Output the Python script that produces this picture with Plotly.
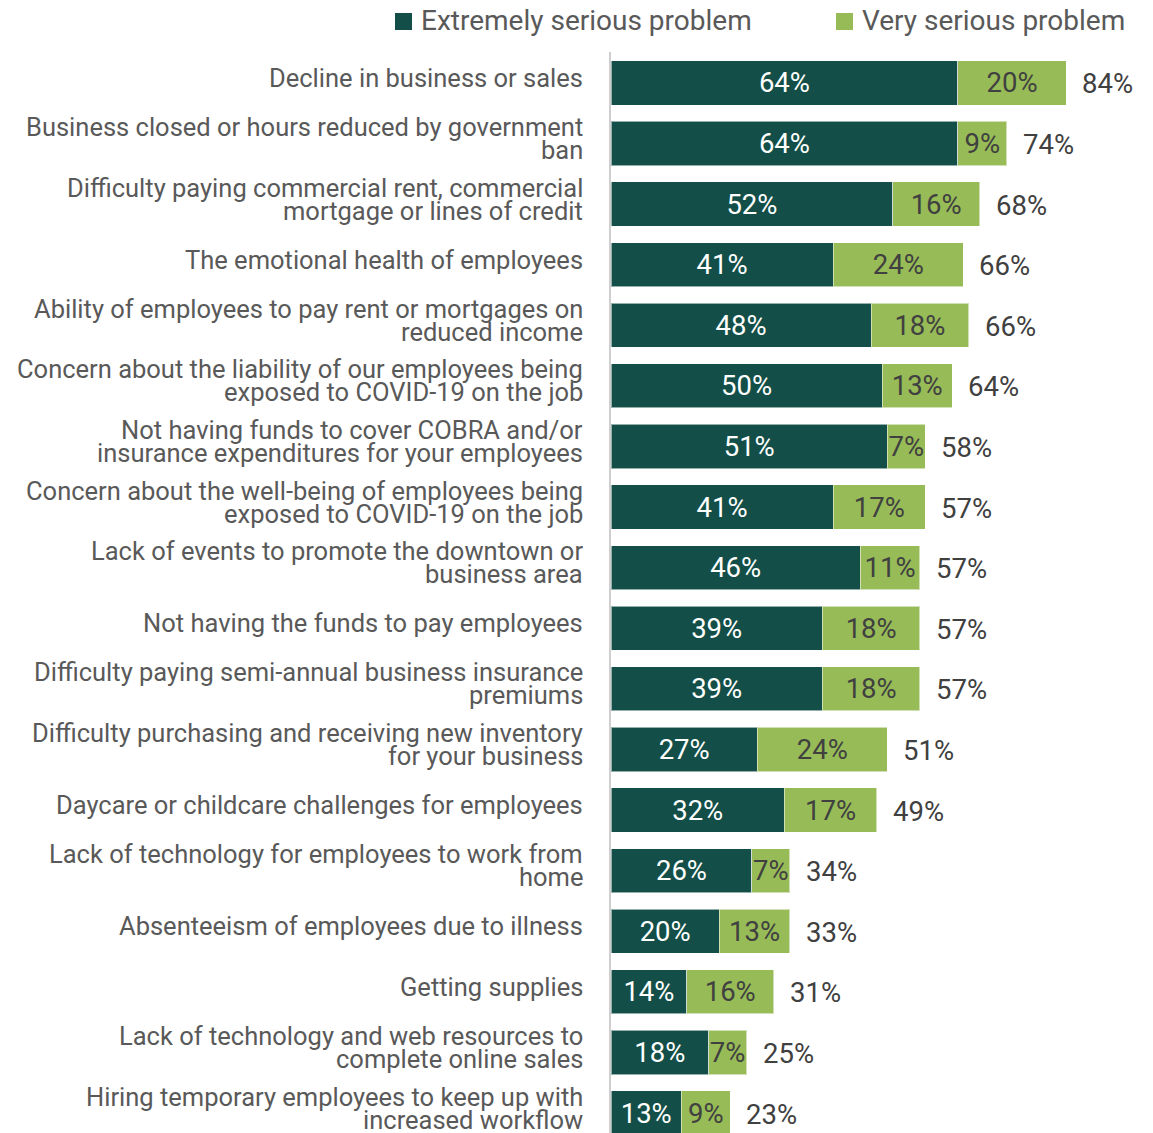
import plotly.graph_objects as go

# Survey items, top to bottom; "\n" marks where a label wraps
categories = [
    "Decline in business or sales",
    "Business closed or hours reduced by government\nban",
    "Difficulty paying commercial rent, commercial\nmortgage or lines of credit",
    "The emotional health of employees",
    "Ability of employees to pay rent or mortgages on\nreduced income",
    "Concern about the liability of our employees being\nexposed to COVID-19 on the job",
    "Not having funds to cover COBRA and/or\ninsurance expenditures for your employees",
    "Concern about the well-being of employees being\nexposed to COVID-19 on the job",
    "Lack of events to promote the downtown or\nbusiness area",
    "Not having the funds to pay employees",
    "Difficulty paying semi-annual business insurance\npremiums",
    "Difficulty purchasing and receiving new inventory\nfor your business",
    "Daycare or childcare challenges for employees",
    "Lack of technology for employees to work from\nhome",
    "Absenteeism of employees due to illness",
    "Getting supplies",
    "Lack of technology and web resources to\ncomplete online sales",
    "Hiring temporary employees to keep up with\nincreased workflow",
]
series_names = ["Extremely serious problem", "Very serious problem"]
extremely_serious = [64, 64, 52, 41, 48, 50, 51, 41, 46, 39, 39, 27, 32, 26, 20, 14, 18, 13]
very_serious = [20, 9, 16, 24, 18, 13, 7, 17, 11, 18, 18, 24, 17, 7, 13, 16, 7, 9]
total_serious = [84, 74, 68, 66, 66, 64, 58, 57, 57, 57, 57, 51, 49, 34, 33, 31, 25, 23]

DARK = "#134f48"
LIGHT = "#97bb57"
FONT = "Roboto"
LABEL_FS = 25.5
VALUE_FS = 27.5
LEGEND_FS = 28
GREY = "#595959"
VALUE_GREY = "#404040"

W, H = 1153, 1133
M_L, M_R, M_T, M_B = 611, 0, 52, 0
PLOT_W = W - M_L - M_R
PLOT_H = H - M_T - M_B


def px_to_paper_x(px):
    return (px - M_L) / PLOT_W


def px_to_paper_y(py):
    return (H - M_B - py) / PLOT_H


rows = list(range(len(categories)))

fig = go.Figure()
for vals, name, color, txt_color in [
    (extremely_serious, series_names[0], DARK, "white"),
    (very_serious, series_names[1], LIGHT, VALUE_GREY),
]:
    fig.add_trace(go.Bar(
        y=rows, x=vals, orientation="h", name=name,
        marker=dict(color=color, line=dict(color="rgba(255,255,255,0.55)", width=1)),
        text=[f"{v}%" for v in vals], textposition="inside", textangle=0,
        insidetextanchor="middle", constraintext="none",
        insidetextfont=dict(color=txt_color, size=VALUE_FS, family=FONT),
        width=0.73, hoverinfo="skip", showlegend=False,
    ))

annotations = []
shapes = []

# totals to the right of each stacked bar
for i, (e, v, t) in enumerate(zip(extremely_serious, very_serious, total_serious)):
    annotations.append(dict(
        x=e + v, y=i, xref="x", yref="y", text=f"{t}%", showarrow=False,
        xanchor="left", xshift=14, yshift=-1,
        font=dict(color=VALUE_GREY, size=VALUE_FS, family=FONT),
    ))

# category labels, one annotation per line for tight line spacing
LINE = 23
for i, label in enumerate(categories):
    lines = label.split("\n")
    n = len(lines)
    for j, line in enumerate(lines):
        annotations.append(dict(
            x=0, y=i, xref="paper", yref="y", text=line, showarrow=False,
            xanchor="right", xshift=-26,
            yshift=5 + (n - 1) / 2 * LINE - j * LINE,
            font=dict(color=GREY, size=LABEL_FS, family=FONT),
        ))

# legend row across the top
legend_items = [(series_names[0], DARK, 395), (series_names[1], LIGHT, 836)]
for name, color, left in legend_items:
    shapes.append(dict(
        type="rect", xref="paper", yref="paper",
        x0=px_to_paper_x(left), x1=px_to_paper_x(left + 17),
        y0=px_to_paper_y(30), y1=px_to_paper_y(13),
        fillcolor=color, line=dict(width=0),
    ))
    annotations.append(dict(
        x=px_to_paper_x(left + 24), y=px_to_paper_y(21), xref="paper", yref="paper",
        text=name, showarrow=False, xanchor="left", yanchor="middle",
        font=dict(color=GREY, size=LEGEND_FS, family=FONT),
    ))

fig.update_layout(
    barmode="stack",
    width=W, height=H,
    margin=dict(l=M_L, r=M_R, t=M_T, b=M_B),
    paper_bgcolor="white", plot_bgcolor="white",
    font=dict(family=FONT, size=LABEL_FS, color=GREY),
    showlegend=False,
    xaxis=dict(range=[0, 100], visible=False, fixedrange=True),
    yaxis=dict(
        range=[17.33, -0.51], showticklabels=False, showgrid=False, zeroline=False,
        showline=True, linecolor="#cfcfcf", linewidth=2, ticks="", fixedrange=True,
    ),
    annotations=annotations,
    shapes=shapes,
)

fig.write_html("out.html")
